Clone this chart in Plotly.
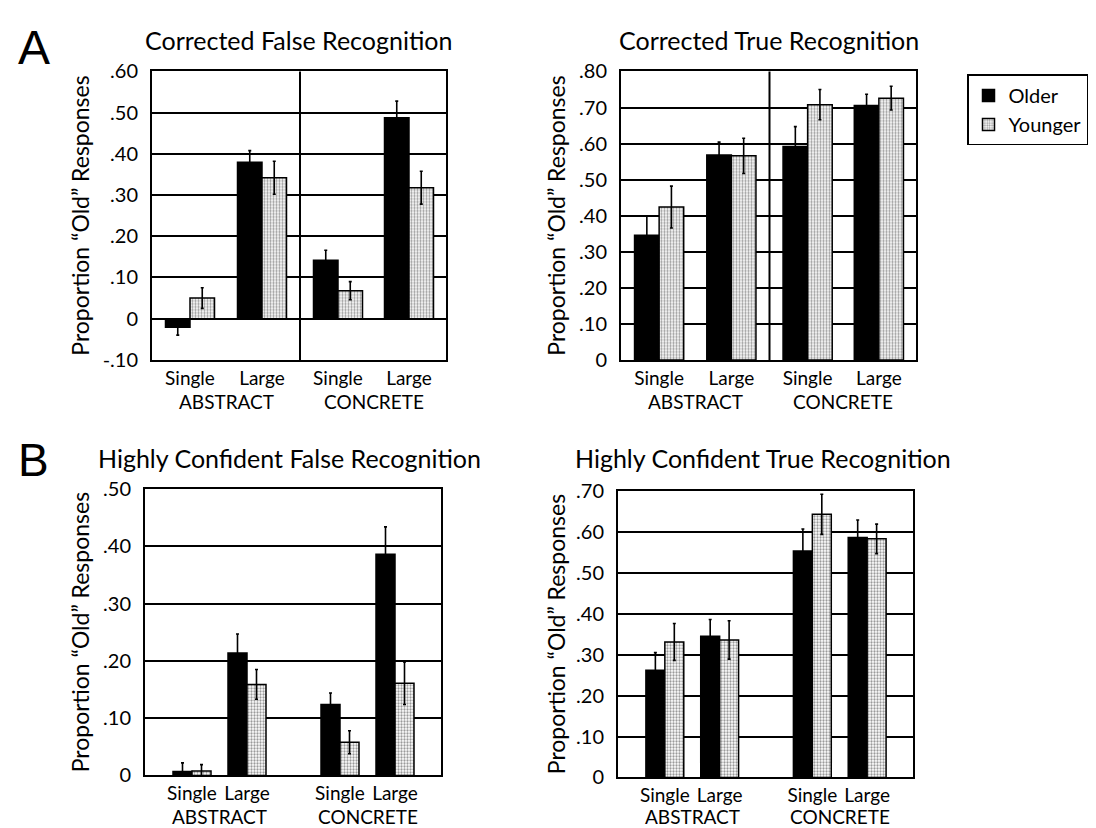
import plotly.graph_objects as go

# ---------------- data ----------------
conditions = ["Single", "Large", "Single", "Large"]
groups = ["ABSTRACT", "CONCRETE"]
series_names = ["Older", "Younger"]

panel_titles = [
    "Corrected False Recognition",
    "Corrected True Recognition",
    "Highly Confident False Recognition",
    "Highly Confident True Recognition",
]

# Corrected False Recognition
cfr_older = [-0.021, 0.380, 0.142, 0.488]
cfr_older_err = [0.019, 0.028, 0.024, 0.040]
cfr_younger = [0.050, 0.342, 0.068, 0.318]
cfr_younger_err = [0.025, 0.040, 0.022, 0.040]

# Corrected True Recognition
ctr_older = [0.346, 0.568, 0.592, 0.706]
ctr_older_err = [0.054, 0.036, 0.055, 0.031]
ctr_younger = [0.424, 0.566, 0.708, 0.726]
ctr_younger_err = [0.058, 0.049, 0.042, 0.033]

# Highly Confident False Recognition
hfr_older = [0.007, 0.214, 0.124, 0.386]
hfr_older_err = [0.015, 0.033, 0.020, 0.048]
hfr_younger = [0.008, 0.159, 0.058, 0.161]
hfr_younger_err = [0.011, 0.026, 0.020, 0.037]

# Highly Confident True Recognition
htr_older = [0.262, 0.345, 0.553, 0.586]
htr_older_err = [0.043, 0.041, 0.054, 0.043]
htr_younger = [0.331, 0.336, 0.643, 0.583]
htr_younger_err = [0.045, 0.047, 0.049, 0.036]

cfr_ticks = [-0.10, 0, 0.10, 0.20, 0.30, 0.40, 0.50, 0.60]
cfr_ticktext = ["-.10", "0", ".10", ".20", ".30", ".40", ".50", ".60"]
ctr_ticks = [0, 0.10, 0.20, 0.30, 0.40, 0.50, 0.60, 0.70, 0.80]
ctr_ticktext = ["0", ".10", ".20", ".30", ".40", ".50", ".60", ".70", ".80"]
hfr_ticks = [0, 0.10, 0.20, 0.30, 0.40, 0.50]
hfr_ticktext = ["0", ".10", ".20", ".30", ".40", ".50"]
htr_ticks = [0, 0.10, 0.20, 0.30, 0.40, 0.50, 0.60, 0.70]
htr_ticktext = ["0", ".10", ".20", ".30", ".40", ".50", ".60", ".70"]

y_title = "Proportion \u201cOld\u201d Responses"

# ---------------- layout helpers ----------------
W, H = 1096, 828
FONT = "Lato"

def px_x(p):
    return p / W

def px_y(p):
    return 1 - p / H

# A row: category centres, separator, bar width (in axis units = pixels)
posA = [38, 110, 186, 257]
rangeA = [0, 294]
sepA = 148
bwA = 24.5
# B row
posB = [47, 102, 195, 250]
rangeB = [0, 296]
bwB = 19

panels = [
    dict(older=cfr_older, oerr=cfr_older_err, younger=cfr_younger, yerr=cfr_younger_err,
         ticks=cfr_ticks, ticktext=cfr_ticktext, yrange=[-0.10, 0.60],
         xdom=[144, 438], ydom=[52, 349], pos=posA, xr=rangeA, bw=bwA, sep=sepA,
         ytitle_x=72, title_x=290, title_y=20, grp_y=392),
    dict(older=ctr_older, oerr=ctr_older_err, younger=ctr_younger, yerr=ctr_younger_err,
         ticks=ctr_ticks, ticktext=ctr_ticktext, yrange=[0, 0.80],
         xdom=[613, 908], ydom=[52, 349], pos=posA, xr=rangeA, bw=bwA, sep=sepA,
         ytitle_x=548, title_x=761, title_y=20, grp_y=392),
    dict(older=hfr_older, oerr=hfr_older_err, younger=hfr_younger, yerr=hfr_younger_err,
         ticks=hfr_ticks, ticktext=hfr_ticktext, yrange=[0, 0.50],
         xdom=[137, 433], ydom=[482, 777], pos=posB, xr=rangeB, bw=bwB, sep=None,
         ytitle_x=72, title_x=281, title_y=450, grp_y=819),
    dict(older=htr_older, oerr=htr_older_err, younger=htr_younger, yerr=htr_younger_err,
         ticks=htr_ticks, ticktext=htr_ticktext, yrange=[0, 0.70],
         xdom=[610, 905], ydom=[484, 779], pos=posB, xr=rangeB, bw=bwB, sep=None,
         ytitle_x=548, title_x=755, title_y=450, grp_y=819),
]

fig = go.Figure()
annotations = []
shapes = []

for i, p in enumerate(panels):
    n = "" if i == 0 else str(i + 1)
    xa, ya = "x" + n, "y" + n
    show_leg = (i == 0)
    fig.add_trace(go.Bar(
        x=p["pos"], y=p["older"], name=series_names[0], xaxis=xa, yaxis=ya,
        width=p["bw"], offset=-p["bw"],
        marker=dict(color="black", line=dict(color="black", width=1.5)),
        error_y=dict(type="data", array=p["oerr"], symmetric=True,
                     color="black", thickness=1.6, width=1.5),
        showlegend=show_leg, legendgroup="o",
    ))
    fig.add_trace(go.Bar(
        x=p["pos"], y=p["younger"], name=series_names[1], xaxis=xa, yaxis=ya,
        width=p["bw"], offset=0,
        marker=dict(color="white", line=dict(color="black", width=1.5),
                    pattern=dict(shape=".", fgcolor="#333333", bgcolor="white",
                                 size=3, solidity=0.45)),
        error_y=dict(type="data", array=p["yerr"], symmetric=True,
                     color="black", thickness=1.6, width=1.5),
        showlegend=show_leg, legendgroup="y",
    ))

    xkey = "xaxis" + n
    ykey = "yaxis" + n
    fig.layout[xkey] = dict(
        domain=[px_x(p["xdom"][0]), px_x(p["xdom"][1])],
        range=p["xr"], anchor=ya,
        tickmode="array", tickvals=p["pos"], ticktext=conditions,
        ticks="", showgrid=False, zeroline=False,
        showline=True, mirror=True, linecolor="black", linewidth=2,
        tickfont=dict(family=FONT, size=19, color="black"),
        ticklabelstandoff=0,
    )
    fig.layout[ykey] = dict(
        domain=[px_y(p["ydom"][1]), px_y(p["ydom"][0])],
        range=p["yrange"], anchor=xa,
        tickmode="array", tickvals=p["ticks"], ticktext=p["ticktext"],
        ticks="", showgrid=True, gridcolor="black", gridwidth=1.5,
        zeroline=False,
        showline=True, mirror=True, linecolor="black", linewidth=2,
        tickfont=dict(family=FONT, size=20, color="black"),
        ticklabelstandoff=8,
    )

    # group labels
    for g, name in enumerate(groups):
        xc = (p["pos"][2 * g] + p["pos"][2 * g + 1]) / 2
        annotations.append(dict(
            x=xc, xref=xa, y=px_y(p["grp_y"]), yref="paper",
            text=name, showarrow=False, xanchor="center", yanchor="middle",
            font=dict(family=FONT, size=19, color="black")))
    # subplot title
    annotations.append(dict(
        x=px_x(p["title_x"]), y=px_y(p["title_y"]), xref="paper", yref="paper",
        text=panel_titles[i], showarrow=False, xanchor="center", yanchor="middle",
        font=dict(family=FONT, size=25, color="black")))
    # y-axis title
    annotations.append(dict(
        x=px_x(p["ytitle_x"]), y=px_y((p["ydom"][0] + p["ydom"][1]) / 2),
        xref="paper", yref="paper", text=y_title, textangle=-90,
        showarrow=False, xanchor="center", yanchor="middle",
        font=dict(family=FONT, size=23, color="black")))
    # separator between ABSTRACT and CONCRETE
    if p["sep"] is not None:
        shapes.append(dict(type="line", xref=xa, yref=ya + " domain",
                           x0=p["sep"], x1=p["sep"], y0=0, y1=1,
                           line=dict(color="black", width=2)))

# panel letters
annotations.append(dict(x=px_x(26), y=px_y(27), xref="paper", yref="paper",
                        text="A", showarrow=False, xanchor="center", yanchor="middle",
                        font=dict(family="Liberation Sans", size=48, color="black")))
annotations.append(dict(x=px_x(25), y=px_y(452), xref="paper", yref="paper",
                        text="B", showarrow=False, xanchor="center", yanchor="middle",
                        font=dict(family="Liberation Sans", size=46, color="black")))

fig.update_layout(
    width=W, height=H,
    margin=dict(l=0, r=0, t=0, b=0),
    paper_bgcolor="white", plot_bgcolor="white",
    barmode="overlay",
    showlegend=True,
    legend=dict(x=px_x(959), y=px_y(55), xanchor="left", yanchor="top",
                bordercolor="black", borderwidth=1.5, bgcolor="white",
                font=dict(family=FONT, size=20, color="black"),
                tracegroupgap=0, itemwidth=30),
    annotations=annotations,
    shapes=shapes,
)

fig.write_html("out.html")
